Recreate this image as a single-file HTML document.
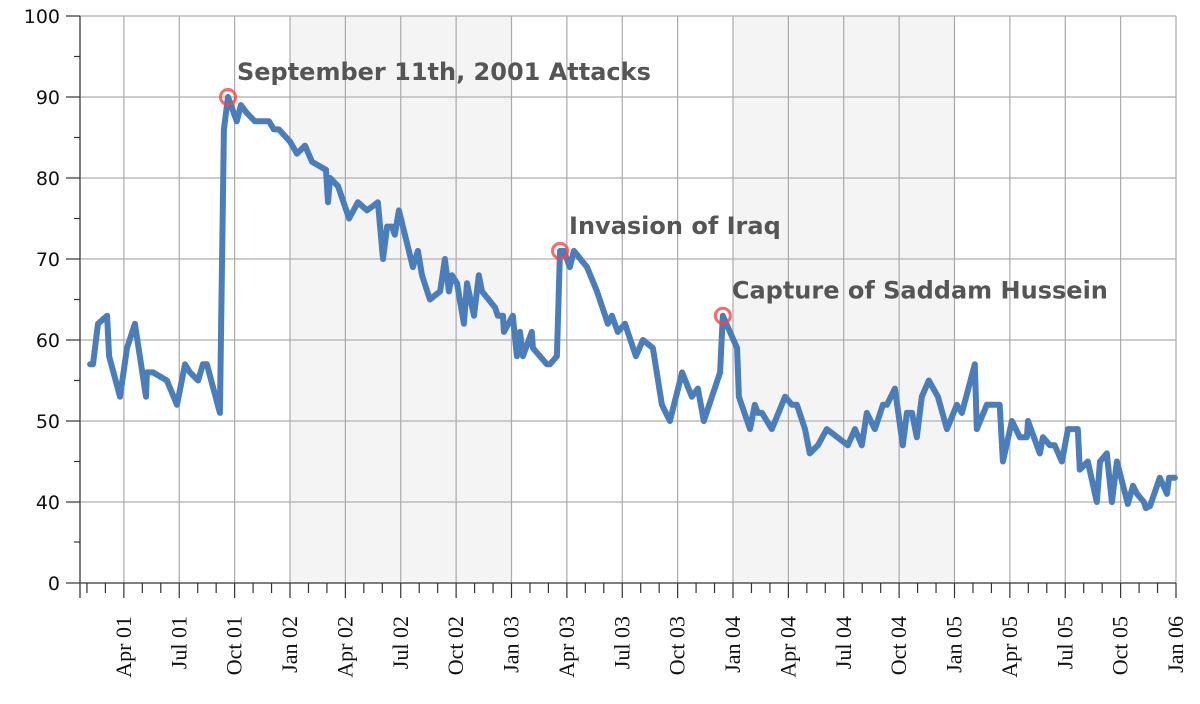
<!DOCTYPE html>
<html><head><meta charset="utf-8"><style>
html,body{margin:0;padding:0;background:#fff;}
svg{display:block;}
</style></head><body>
<svg id="chart" width="1200" height="704" xmlns="http://www.w3.org/2000/svg">
<g id="bands"></g>
<g id="grid"></g>
<g id="axes"></g>
<g id="series"></g>
<g id="notes"></g>
</svg>
<script>
// months since Jan 1 2001
const months = [1.17,1.33,1.60,2.09,2.20,2.79,3.17,3.60,4.20,4.25,4.58,5.33,5.88,6.31,6.58,7.02,7.28,7.50,8.20,8.42,8.64,9.12,9.34,9.67,10.10,10.86,11.13,11.40,12.00,12.38,12.81,13.19,13.95,14.06,14.17,14.60,15.20,15.68,16.17,16.76,17.04,17.26,17.52,17.68,17.90,18.66,18.93,19.15,19.58,20.13,20.39,20.61,20.77,21.05,21.42,21.59,21.97,22.23,22.40,23.11,23.26,23.54,23.59,24.07,24.29,24.46,24.62,25.10,25.16,25.54,25.92,26.08,26.46,26.63,26.84,27.16,27.38,28.09,28.63,29.22,29.44,29.76,30.15,30.74,31.12,31.66,32.15,32.58,33.24,33.77,34.10,34.42,35.30,35.45,36.22,36.32,36.92,37.18,37.35,37.57,38.10,38.82,39.19,39.46,39.90,40.16,40.60,41.08,42.22,42.61,42.98,43.25,43.69,44.12,44.34,44.77,45.20,45.42,45.70,45.96,46.23,46.61,47.10,47.59,48.13,48.40,49.10,49.21,49.75,50.45,50.62,51.11,51.54,51.92,51.98,52.62,52.79,53.17,53.43,53.82,54.15,54.68,54.79,55.22,55.71,55.88,56.25,56.53,56.80,57.39,57.67,57.89,58.26,58.37,58.59,59.12,59.51,59.62,59.94];
const approval = [57,57,62,63,58,53,59,62,53,56,56,55,52,57,56,55,57,57,51,86,90,87,89,88,87,87,86,86,84.5,83,84,82,81,77,80,79,75,77,76,77,70,74,74,73,76,69,71,68,65,66,70,66,68,67,62,67,63,68,66,64,63,63,61,63,58,61,58,61,59,58,57,57,58,71,71,69,71,69,66,62,63,61,62,58,60,59,52,50,56,53,54,50,56,63,59,53,49,52,51,51,49,53,52,52,49,46,47,49,47,49,47,51,49,52,52,54,47,51,51,48,53,55,53,49,52,51,57,49,52,52,45,50,48,48,50,46,48,47,47,45,49,49,44,45,40,45,46,40,45,39,42,41,40,37,38,43,41,43,43];
const yTicks = [0,40,50,60,70,80,90,100];
const xLabels = ["Apr 01","Jul 01","Oct 01","Jan 02","Apr 02","Jul 02","Oct 02","Jan 03","Apr 03","Jul 03","Oct 03","Jan 04","Apr 04","Jul 04","Oct 04","Jan 05","Apr 05","Jul 05","Oct 05","Jan 06"];
const eventNames = ["September 11th, 2001 Attacks","Invasion of Iraq","Capture of Saddam Hussein"];
const eventMonths = [8.64,26.63,35.45];
const eventValues = [90,71,63];

const NS="http://www.w3.org/2000/svg";
const X0=80, X1=1176, YB=583, XJ=68.5, PM=(1176-68.5)/60;
function xs(m){return XJ+m*PM;}
function ys(v){return v>=40 ? 502-(v-40)*8.1 : 583-(v)*81/40;}
function mk(tag,attrs,parent){const e=document.createElementNS(NS,tag);for(const k in attrs)e.setAttribute(k,attrs[k]);parent.appendChild(e);return e;}

const bands=document.getElementById('bands');
[[12,24],[36,48]].forEach(b=>{
  const r=mk('rect',{x:xs(b[0]),y:16,width:xs(b[1])-xs(b[0]),height:YB-16,fill:'#f4f4f4'},bands);
  
  
});
const grid=document.getElementById('grid');
yTicks.forEach(v=>{
  if(v===0)return;
  const l=mk('line',{x1:X0,x2:X1,y1:ys(v),y2:ys(v),stroke:'#bbbbbb','stroke-width':1.5},grid);
  
  
});
for(let q=3;q<=60;q+=3){
  const l=mk('line',{x1:xs(q),x2:xs(q),y1:16,y2:YB,stroke:'#aaaaaa','stroke-width':1.2},grid);
  
  
}
const axes=document.getElementById('axes');
mk('line',{x1:X0,x2:X0,y1:16,y2:598,stroke:'#555','stroke-width':1.5},axes);
mk('line',{x1:X0,x2:X1,y1:YB,y2:YB,stroke:'#555','stroke-width':1.5},axes);
yTicks.forEach(v=>{
  mk('line',{x1:66,x2:X0,y1:ys(v),y2:ys(v),stroke:'#333','stroke-width':1.2},axes);
  const t=mk('text',{x:60,y:ys(v)+7,'text-anchor':'end','font-family':'DejaVu Sans, sans-serif','font-size':19,fill:'#111'},axes);
  t.textContent=v;
  
  
});
[45,55,65,75,85,95].forEach(v=>mk('line',{x1:74,x2:X0,y1:ys(v),y2:ys(v),stroke:'#333','stroke-width':1.2},axes));
mk('line',{x1:74,x2:X0,y1:542,y2:542,stroke:'#333','stroke-width':1.2},axes);
for(let m=1;m<=60;m++){
  const major=m%3===0;
  mk('line',{x1:xs(m),x2:xs(m),y1:YB,y2:major?598:593,stroke:'#333','stroke-width':1.2},axes);
}
xLabels.forEach((s,i)=>{
  const x=xs((i+1)*3);
  const t=mk('text',{x:0,y:0,transform:`translate(${x+7},616) rotate(-90)`,'text-anchor':'end','font-family':'Liberation Serif, serif','font-size':22,fill:'#111'},axes);
  t.textContent=s;
  
  
});
const series=document.getElementById('series');
const pts=months.map((m,i)=>xs(m).toFixed(1)+','+ys(approval[i]).toFixed(1)).join(' ');
const pl=mk('polyline',{points:pts,fill:'none',stroke:'#4a7ebb','stroke-width':6,'stroke-linejoin':'round','stroke-linecap':'round'},series);


const notes=document.getElementById('notes');
eventNames.forEach((n,i)=>{
  const cx=xs(eventMonths[i]), cy=ys(eventValues[i]);
  const c=mk('circle',{cx:cx,cy:cy,r:7.5,fill:'none',stroke:'#ff4040','stroke-opacity':0.8,'stroke-width':3},notes);
  
  
  const t=mk('text',{x:cx+9,y:cy-17,'font-family':'DejaVu Sans, sans-serif','font-weight':'bold','font-size':24,fill:'#555'},notes);
  t.textContent=n;
  
  
});
</script>
</body></html>
